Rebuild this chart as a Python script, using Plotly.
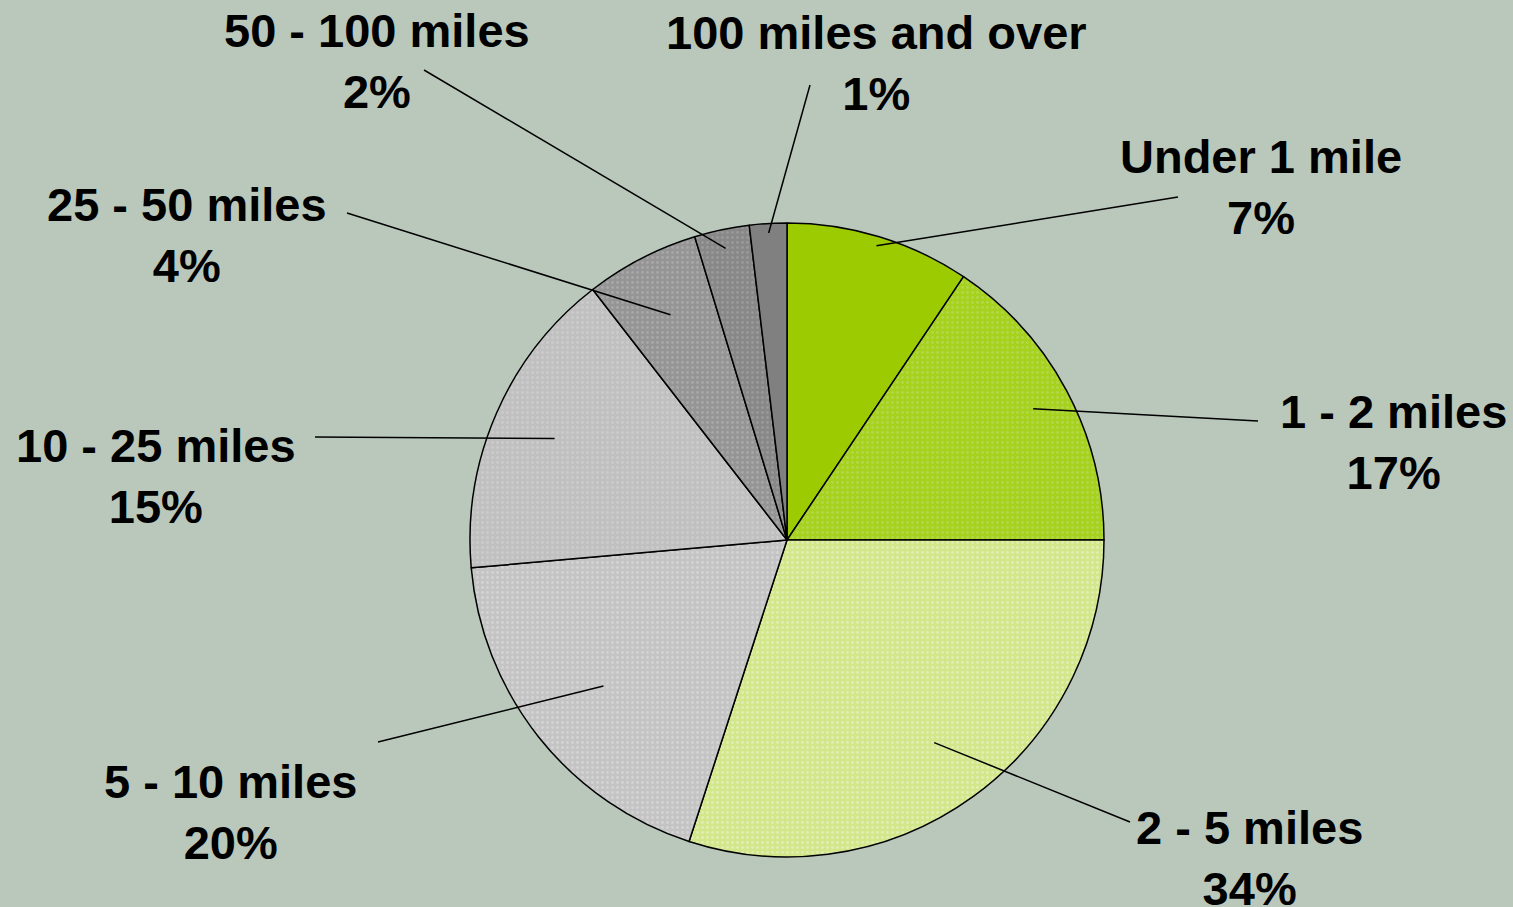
import math
import plotly.graph_objects as go

# Data (slice sizes; label percentages as printed)
categories = ["Under 1 mile", "1 - 2 miles", "2 - 5 miles", "5 - 10 miles",
              "10 - 25 miles", "25 - 50 miles", "50 - 100 miles", "100 miles and over"]
slice_values = [9.4, 15.6, 30.0, 18.6, 15.9, 5.8, 2.8, 1.9]
pct_labels = ["7%", "17%", "34%", "20%", "15%", "4%", "2%", "1%"]

# Styles
colors = ["#9BCB00", "#A6D21E", "#D2E68A", "#C4C4C4", "#C0C0C0", "#959595", "#888888", "#808080"]
dot_colors = ["#9BCB00", "#B2D84A", "#E2EEB4", "#D4D4D4", "#CCCCCC", "#A8A8A8", "#9A9A9A", "#808080"]
pattern_shapes = ["", ".", ".", ".", ".", ".", ".", ""]

W, H = 1513, 907
cx, cy, R = 787, 540, 317
bg = "#BAC8BC"

# leader-line positions (layout)
inner_frac = [0.97, 0.88, 0.79, 0.74, 0.80, 0.80, 0.94, 0.97]
outer_pts = [(1178, 197), (1258, 421), (1130, 822), (378, 742), (315, 437), (347, 213), (424, 70), (810, 85)]
label_pos = [(1261, 187), (1393, 442), (1249, 858), (230, 812), (156, 476), (187, 235), (377, 61), (876, 63)]

fig = go.Figure()
fig.add_trace(go.Pie(
    labels=categories, values=slice_values, sort=False, direction="clockwise", rotation=0,
    textinfo="none", hoverinfo="label+percent", showlegend=False,
    marker=dict(colors=colors, line=dict(color="#000000", width=1.5),
                pattern=dict(shape=pattern_shapes, fgcolor=dot_colors, bgcolor=colors,
                             fillmode="replace", size=5, solidity=0.25)),
    domain=dict(x=[(cx - R) / W, (cx + R) / W], y=[(H - cy - R) / H, (H - cy + R) / H]),
))

# dummy scatter to activate pixel axes
fig.add_trace(go.Scatter(x=[0, W], y=[0, H], mode="markers", marker=dict(opacity=0),
                         hoverinfo="skip", showlegend=False))

total = sum(slice_values)
cum = 0.0
shapes = []
annotations = []
for i, v in enumerate(slice_values):
    mid = (cum + v / 2) / total * 360.0
    cum += v
    a = math.radians(mid)
    r = R * inner_frac[i]
    x0 = cx + r * math.sin(a)
    y0 = cy - r * math.cos(a)
    x1, y1 = outer_pts[i]
    shapes.append(dict(type="line", xref="x", yref="y", x0=x0, y0=y0, x1=x1, y1=y1,
                       line=dict(color="#000000", width=1.5)))
    lx, ly = label_pos[i]
    annotations.append(dict(xref="x", yref="y", x=lx, y=ly, showarrow=False,
                            text=f"<b>{categories[i]}<br>{pct_labels[i]}</b>",
                            xanchor="center", yanchor="middle", align="center",
                            font=dict(family="Liberation Sans, Arial, sans-serif", size=47, color="#000000")))

fig.update_layout(
    width=W, height=H, paper_bgcolor=bg, plot_bgcolor="rgba(0,0,0,0)",
    margin=dict(l=0, r=0, t=0, b=0),
    xaxis=dict(range=[0, W], visible=False, fixedrange=True),
    yaxis=dict(range=[H, 0], visible=False, fixedrange=True),
    shapes=shapes, annotations=annotations,
)

fig.write_html("out.html")
